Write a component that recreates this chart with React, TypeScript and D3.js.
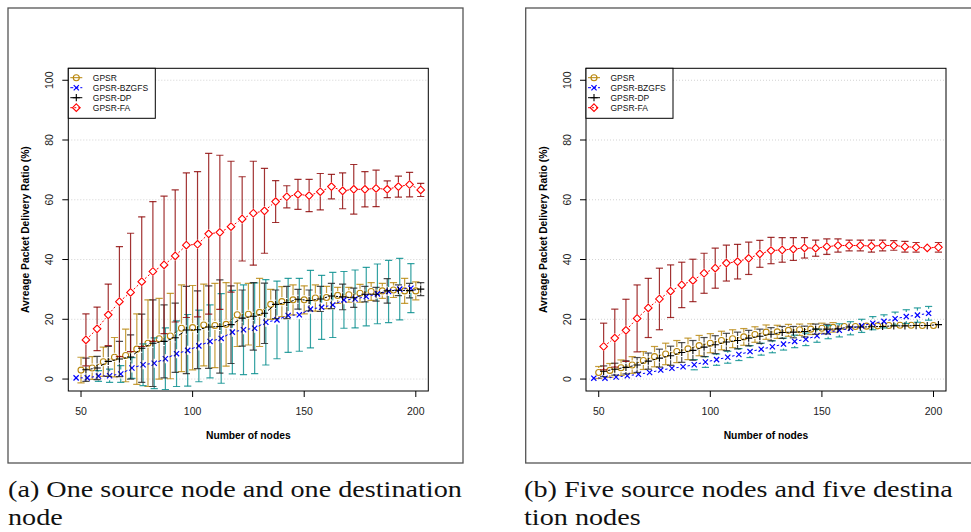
import React, { useEffect, useRef } from 'react';
import * as d3 from 'd3';

// number of nodes (x positions of the GPSR points; others are dodged)
const nodes = [50, 55, 60, 65, 70, 75, 80, 85, 90, 95, 100, 105, 110, 115, 120, 125, 130, 135, 140, 145, 150, 155, 160, 165, 170, 175, 180, 185, 190, 195, 200];
const yTicks = [0, 20, 40, 60, 80, 100];
const xTicks = [50, 100, 150, 200];
const seriesNames = ['GPSR', 'GPSR-BZGFS', 'GPSR-DP', 'GPSR-FA'];

// (a) one source node and one destination node
const gpsrA = [3.0, 3.7, 5.8, 7.3, 7.9, 10.0, 12.0, 13.5, 14.4, 17.0, 17.2, 18.1, 17.9, 18.3, 21.5, 21.7, 22.3, 25.0, 25.9, 26.5, 26.5, 27.1, 27.3, 28.0, 28.2, 28.7, 29.3, 29.5, 29.8, 29.5, 29.5];
const gpsrAErr = [4.3, 3.8, 4.9, 6.6, 8.8, 11.8, 14.5, 13.5, 14.3, 14.5, 14.1, 13.7, 14.1, 14.0, 10.6, 10.3, 11.4, 5.0, 5.0, 5.0, 4.7, 4.4, 3.7, 2.7, 2.5, 3.0, 3.0, 2.5, 2.5, 4.2, 3.0];
const bzgfsA = [0.4, 0.4, 1.0, 1.1, 1.7, 3.7, 4.8, 5.3, 6.8, 8.5, 9.6, 11.1, 12.6, 13.6, 15.7, 16.5, 17.0, 19.0, 19.8, 21.3, 21.5, 23.4, 24.0, 24.8, 26.5, 26.8, 27.6, 28.5, 29.3, 30.1, 30.4];
const bzgfsAErr = [1.3, 1.5, 1.8, 2.2, 2.8, 3.5, 7.0, 8.5, 10.3, 11.0, 12.0, 12.0, 12.2, 15.0, 14.0, 15.0, 15.2, 14.3, 13.0, 12.4, 12.2, 13.0, 10.7, 10.9, 9.5, 9.7, 9.8, 10.0, 10.4, 10.3, 8.2];
const dpA = [3.1, 3.7, 5.9, 6.7, 7.4, 10.3, 12.0, 12.6, 13.8, 16.4, 16.5, 17.4, 17.6, 18.2, 20.4, 21.0, 22.0, 25.0, 25.6, 26.7, 26.3, 26.8, 27.8, 27.5, 27.2, 28.4, 28.4, 29.5, 29.7, 29.6, 30.1];
const dpAErr = [3.9, 3.9, 5.0, 5.9, 7.4, 11.4, 14.5, 12.2, 11.6, 14.6, 13.0, 13.8, 15.6, 13.0, 9.4, 11.3, 10.1, 4.8, 5.4, 3.3, 3.5, 4.2, 4.2, 4.3, 3.2, 2.6, 2.3, 4.1, 1.8, 2.4, 2.2];
const faA = [13.1, 16.8, 21.5, 25.9, 29.0, 32.6, 36.0, 38.2, 41.2, 44.8, 45.1, 48.6, 49.1, 51.0, 53.6, 55.5, 56.3, 59.4, 61.0, 61.8, 61.4, 62.7, 64.4, 63.0, 63.5, 63.5, 63.8, 63.5, 64.4, 65.1, 63.3];
const faAErr = [8.7, 7.3, 10.3, 18.4, 19.8, 21.7, 23.4, 23.0, 22.1, 24.2, 24.3, 26.9, 25.8, 21.9, 14.1, 17.4, 14.2, 7.0, 3.7, 5.0, 5.4, 6.1, 4.1, 6.0, 8.3, 5.9, 6.1, 2.8, 3.5, 4.1, 2.2];

// (b) five source nodes and five destination nodes
const gpsrB = [2.2, 2.9, 3.8, 4.7, 6.2, 7.5, 8.4, 9.2, 10.1, 11.2, 12.0, 12.9, 13.5, 14.1, 14.9, 15.7, 15.8, 16.3, 16.5, 16.7, 17.0, 17.3, 17.6, 17.6, 17.7, 17.8, 17.9, 18.0, 18.0, 17.9, 17.9];
const gpsrBErr = [2.0, 2.3, 2.6, 2.8, 3.0, 3.4, 3.6, 3.7, 3.6, 3.4, 3.2, 3.1, 3.0, 2.8, 2.6, 2.4, 2.2, 2.0, 1.9, 1.8, 1.7, 1.6, 1.5, 1.5, 1.4, 1.4, 1.3, 1.3, 1.2, 1.2, 1.2];
const bzgfsB = [0.3, 0.3, 0.7, 1.1, 1.6, 2.2, 3.0, 3.6, 4.1, 4.8, 5.7, 6.5, 7.3, 8.2, 9.2, 10.0, 10.8, 11.7, 12.6, 13.3, 14.5, 15.7, 16.3, 17.0, 17.8, 18.7, 19.3, 20.2, 20.9, 21.4, 22.0];
const bzgfsBErr = [0.5, 0.6, 0.8, 1.0, 1.1, 1.2, 1.3, 1.4, 1.5, 1.7, 1.8, 1.9, 2.0, 2.0, 2.0, 2.0, 2.0, 2.0, 2.1, 2.1, 2.2, 2.2, 2.2, 2.2, 2.2, 2.2, 2.2, 2.2, 2.3, 2.4, 2.3];
const dpB = [2.6, 3.3, 3.9, 4.7, 6.0, 7.0, 7.8, 8.9, 9.6, 10.7, 11.5, 12.4, 12.9, 13.7, 14.3, 15.0, 15.6, 15.7, 15.9, 16.7, 16.7, 16.8, 17.4, 17.4, 17.5, 17.6, 17.8, 17.8, 17.9, 17.9, 18.2];
const dpBErr = [1.8, 2.0, 2.2, 2.5, 2.7, 3.0, 3.2, 3.3, 3.3, 3.2, 3.0, 2.9, 2.8, 2.6, 2.4, 2.2, 2.0, 1.9, 1.8, 1.7, 1.6, 1.5, 1.5, 1.4, 1.4, 1.3, 1.3, 1.2, 1.2, 1.2, 1.2];
const faB = [10.9, 13.7, 16.3, 20.3, 23.8, 26.8, 29.4, 31.5, 33.0, 35.4, 37.1, 38.8, 39.3, 40.4, 41.9, 43.0, 43.2, 43.5, 43.9, 43.8, 44.3, 44.7, 44.7, 44.7, 44.5, 44.7, 44.7, 44.3, 44.1, 43.9, 44.1];
const faBErr = [7.8, 9.7, 10.4, 11.2, 9.9, 10.3, 8.8, 7.6, 7.1, 6.7, 6.7, 6.0, 5.8, 5.4, 4.5, 4.4, 4.1, 3.8, 3.4, 2.7, 2.6, 2.2, 1.8, 1.8, 2.0, 1.8, 1.6, 1.8, 1.6, 1.5, 1.6];

const captionA = ['(a) One source node and one destination', 'node'];
const captionB = ['(b) Five source nodes and five destina', 'tion nodes'];

const styles = [
  { dx: 0, color: '#B8860B', bar: '#B8860B', shape: 'circle', dash: null },
  { dx: -2.2, color: '#0000FF', bar: '#008B8B', shape: 'x', dash: '3,2' },
  { dx: 2.2, color: '#000000', bar: '#222222', shape: 'plus', dash: null },
  { dx: 2.2, color: '#FF0000', bar: '#8B0000', shape: 'diamond', dash: '2,2' },
];

const SANS = '"Liberation Sans", Arial, Helvetica, sans-serif';
const SERIF = '"Liberation Serif", "DejaVu Serif", serif';

function drawMarker(g, shape, cx, cy, color) {
  if (shape === 'circle') {
    g.append('circle').attr('cx', cx).attr('cy', cy).attr('r', 3)
      .attr('fill', 'none').attr('stroke', color).attr('stroke-width', 1.1);
  } else if (shape === 'x') {
    const s = 2.6;
    g.append('path').attr('d', `M${cx - s},${cy - s}L${cx + s},${cy + s}M${cx - s},${cy + s}L${cx + s},${cy - s}`)
      .attr('stroke', color).attr('stroke-width', 1.2);
  } else if (shape === 'plus') {
    const s = 3.6;
    g.append('path').attr('d', `M${cx - s},${cy}L${cx + s},${cy}M${cx},${cy - s}L${cx},${cy + s}`)
      .attr('stroke', color).attr('stroke-width', 1.1);
  } else {
    const s = 3.8;
    g.append('path').attr('d', `M${cx},${cy - s}L${cx + s},${cy}L${cx},${cy + s}L${cx - s},${cy}Z`)
      .attr('fill', 'none').attr('stroke', color).attr('stroke-width', 1.1);
  }
}

function drawPanel(svg, ox, idx, series) {
  const left = ox + 68.3, right = ox + 428.3, top = 68.3, bottom = 391;
  const x = d3.scaleLinear().domain([44.3, 205.6]).range([left, right]);
  const y = d3.scaleLinear().domain([-4, 104]).range([bottom, top]);

  // outer figure frame
  svg.append('rect').attr('x', ox + 8).attr('y', 8).attr('width', 455).attr('height', 455)
    .attr('fill', 'none').attr('stroke', '#555').attr('stroke-width', 1.3);

  // grid
  svg.append('g').selectAll('line').data(yTicks).join('line')
    .attr('x1', left).attr('x2', right).attr('y1', d => y(d)).attr('y2', d => y(d))
    .attr('stroke', '#c8c8c8').attr('stroke-width', 0.8).attr('stroke-dasharray', '1,2');

  const clipId = `clip-${idx}`;
  svg.append('clipPath').attr('id', clipId).append('rect')
    .attr('x', left).attr('y', top).attr('width', right - left).attr('height', bottom - top);

  const gap = 4.5;
  const cap = 3.6;
  series.forEach((s, si) => {
    const st = styles[si];
    const g = svg.append('g').attr('clip-path', `url(#${clipId})`);
    const pts = nodes.map((n, i) => [x(n + st.dx), y(s.values[i])]);

    // connecting lines, broken around the points
    for (let i = 0; i < pts.length - 1; i++) {
      const [x1, y1] = pts[i];
      const [x2, y2] = pts[i + 1];
      const len = Math.hypot(x2 - x1, y2 - y1);
      if (len <= 2 * gap) continue;
      const ux = (x2 - x1) / len, uy = (y2 - y1) / len;
      g.append('line')
        .attr('x1', x1 + ux * gap).attr('y1', y1 + uy * gap)
        .attr('x2', x2 - ux * gap).attr('y2', y2 - uy * gap)
        .attr('stroke', st.color).attr('stroke-width', 1)
        .attr('stroke-dasharray', st.dash);
    }

    // error bars
    pts.forEach(([px, py], i) => {
      const v = s.values[i], e = s.err[i];
      const yt = y(v + e), yb = y(v - e);
      [[yt, -1], [yb, 1]].forEach(([ye, dir]) => {
        if (Math.abs(ye - py) <= gap) return;
        g.append('line').attr('x1', px).attr('x2', px)
          .attr('y1', py + dir * gap).attr('y2', ye)
          .attr('stroke', st.bar).attr('stroke-width', 1.2).attr('stroke-opacity', 0.8);
        g.append('line').attr('x1', px - cap).attr('x2', px + cap)
          .attr('y1', ye).attr('y2', ye)
          .attr('stroke', st.bar).attr('stroke-width', 1.2).attr('stroke-opacity', 0.8);
      });
    });

    pts.forEach(([px, py]) => drawMarker(g, st.shape, px, py, st.color));
  });

  // box
  svg.append('rect').attr('x', left).attr('y', top).attr('width', right - left).attr('height', bottom - top)
    .attr('fill', 'none').attr('stroke', '#000').attr('stroke-width', 1);

  // y axis
  const ya = svg.append('g');
  ya.selectAll('line').data(yTicks).join('line')
    .attr('x1', left - 6).attr('x2', left).attr('y1', d => y(d)).attr('y2', d => y(d))
    .attr('stroke', '#000').attr('stroke-width', 1);
  ya.selectAll('text').data(yTicks).join('text')
    .attr('transform', d => `translate(${left - 15.5},${y(d)}) rotate(-90)`)
    .attr('text-anchor', 'middle')
    .style('font-family', SANS).style('font-size', '10.5px').style('fill', '#222')
    .text(d => d);

  // x axis
  const xa = svg.append('g');
  xa.selectAll('line').data(xTicks).join('line')
    .attr('x1', d => x(d)).attr('x2', d => x(d)).attr('y1', bottom).attr('y2', bottom + 6)
    .attr('stroke', '#000').attr('stroke-width', 1);
  xa.selectAll('text').data(xTicks).join('text')
    .attr('x', d => x(d)).attr('y', bottom + 23.5)
    .attr('text-anchor', 'middle')
    .style('font-family', SANS).style('font-size', '10.5px').style('fill', '#222')
    .text(d => d);

  // axis titles
  svg.append('text')
    .attr('x', (left + right) / 2).attr('y', bottom + 47.7)
    .attr('text-anchor', 'middle')
    .style('font-family', SANS).style('font-size', '10.3px').style('font-weight', 'bold')
    .text('Number of nodes');
  svg.append('text')
    .attr('transform', `translate(${left - 39},${(top + bottom) / 2}) rotate(-90)`)
    .attr('text-anchor', 'middle')
    .style('font-family', SANS).style('font-size', '10.3px').style('font-weight', 'bold')
    .text('Avreage Packet Delivery Ratio (%)');

  // legend
  const lg = svg.append('g');
  lg.append('rect').attr('x', left).attr('y', top).attr('width', 87).attr('height', 50)
    .attr('fill', '#fff').attr('stroke', '#000').attr('stroke-width', 1);
  seriesNames.forEach((name, i) => {
    const st = styles[i];
    const ly = 77.7 + i * 10;
    lg.append('line').attr('x1', left + 2).attr('x2', left + 14).attr('y1', ly).attr('y2', ly)
      .attr('stroke', st.color).attr('stroke-width', 1).attr('stroke-dasharray', st.dash);
    drawMarker(lg, st.shape, left + 8, ly, st.color);
    lg.append('text').attr('x', left + 24.5).attr('y', ly + 3)
      .style('font-family', SANS).style('font-size', '8.5px').style('fill', '#111')
      .text(name);
  });
}

const App = () => {
  const svgRef = useRef(null);

  useEffect(() => {
    const svg = d3.select(svgRef.current);
    svg.selectAll('*').remove();

    drawPanel(svg, 0, 0, [
      { values: gpsrA, err: gpsrAErr },
      { values: bzgfsA, err: bzgfsAErr },
      { values: dpA, err: dpAErr },
      { values: faA, err: faAErr },
    ]);
    drawPanel(svg, 517.7, 1, [
      { values: gpsrB, err: gpsrBErr },
      { values: bzgfsB, err: bzgfsBErr },
      { values: dpB, err: dpBErr },
      { values: faB, err: faBErr },
    ]);

    // captions, stretched so line (a) spans the panel width
    const caps = [];
    [[8, captionA], [524, captionB]].forEach(([cx, lines]) => {
      lines.forEach((t, i) => {
        const el = svg.append('text')
          .attr('x', 0).attr('y', 0)
          .style('font-family', SERIF).style('font-size', '23px').style('fill', '#111')
          .text(t);
        caps.push({ el, cx, cy: 497 + i * 27.5 });
      });
    });
    const w = caps[0].el.node().getComputedTextLength();
    const k = w > 0 ? 454 / w : 1;
    caps.forEach(({ el, cx, cy }) => el.attr('transform', `translate(${cx},${cy}) scale(${k},1)`));
  }, []);

  return (
    <svg ref={svgRef} width={971} height={532}
      style={{ position: 'absolute', left: 0, top: 0, background: '#fff' }} />
  );
};

export default App;
